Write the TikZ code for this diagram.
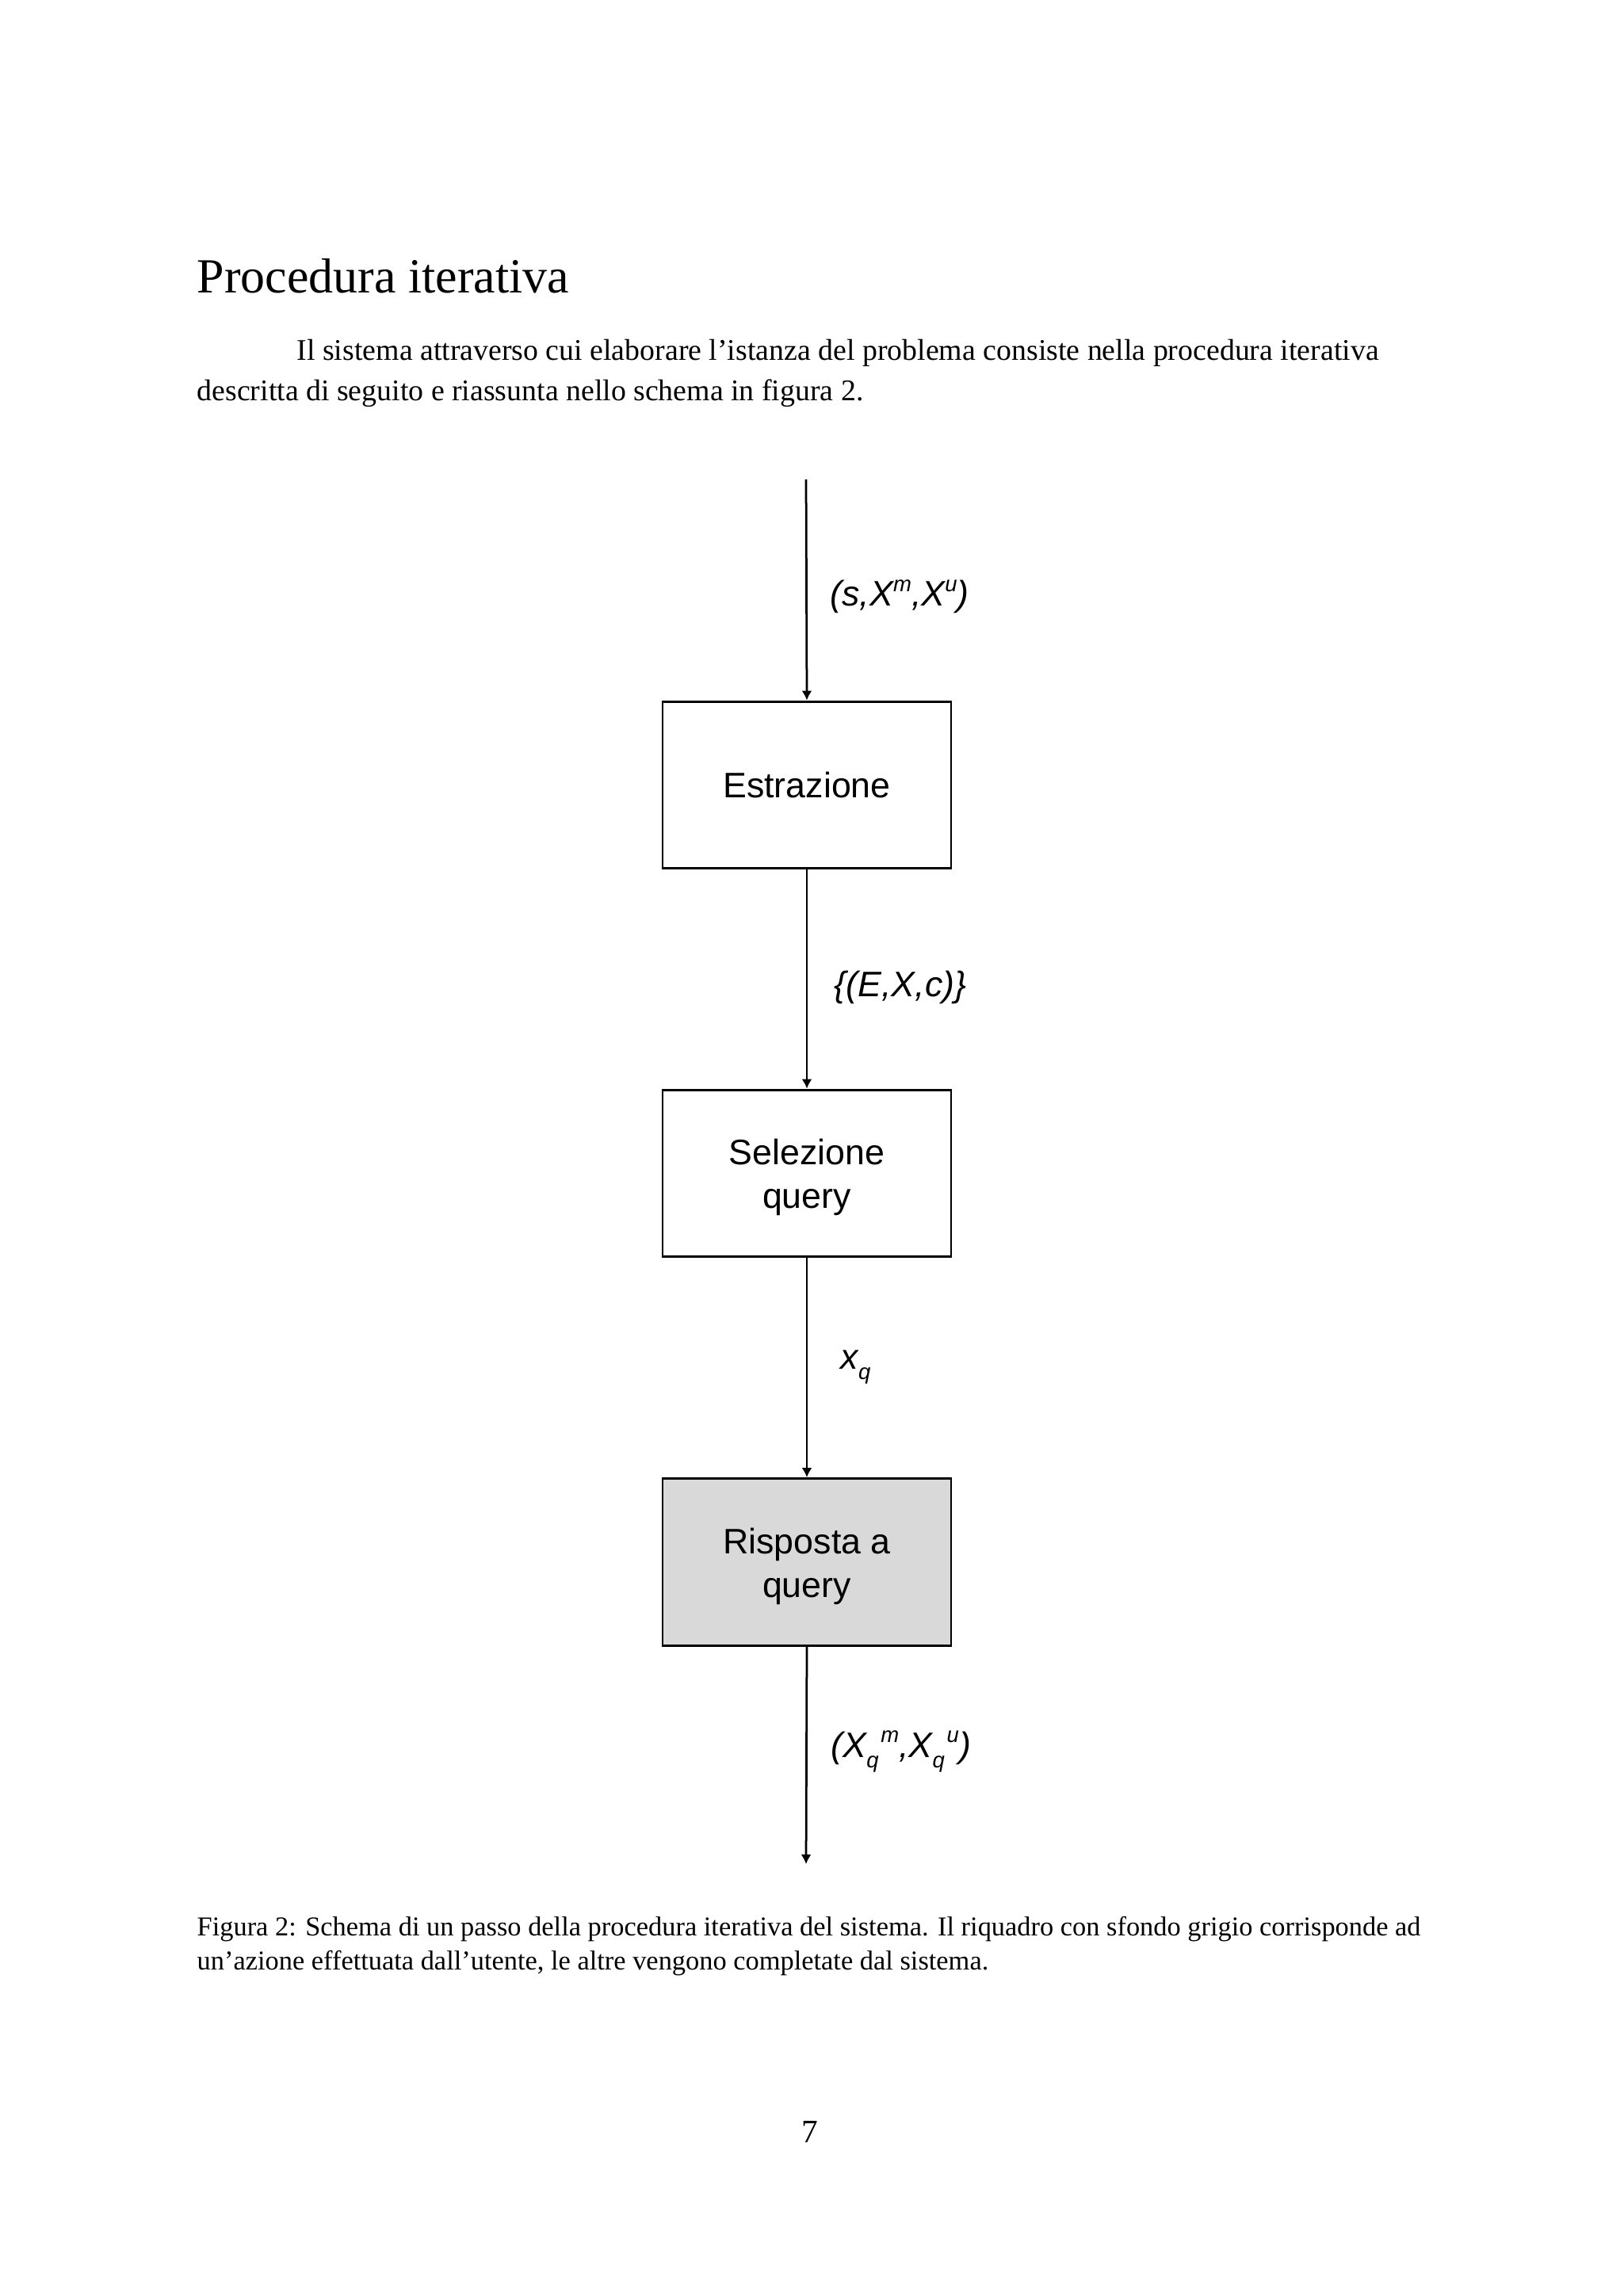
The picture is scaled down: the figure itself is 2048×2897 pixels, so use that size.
\documentclass[tikz,border=0pt]{standalone}
\usepackage{fontspec}
\setmainfont{Liberation Serif}
\newfontfamily\arialf{Liberation Sans}
\usetikzlibrary{arrows.meta}
\definecolor{boxgray}{RGB}{217,217,217}
\newcommand\supx[1]{\raisebox{5.5pt}{\fontsize{8}{8}\selectfont #1}}
\newcommand\subx[1]{\raisebox{-4pt}{\fontsize{8}{8}\selectfont #1}}
\newcommand\lowstrut{\rule{0pt}{12.5pt}}
\tikzset{
  pagetext/.style={anchor=base west,inner sep=0pt,font=\fontsize{11}{13}\selectfont},
  captext/.style={anchor=base west,inner sep=0pt,font=\fontsize{10}{12}\selectfont},
  stepbox/.style={draw=black,line width=0.85pt,minimum width=105.8pt,minimum height=61.3pt,
    inner sep=0pt,align=center,font=\arialf\fontsize{13}{16}\selectfont},
  flowlabel/.style={anchor=base west,inner sep=0pt,font=\arialf\itshape\fontsize{13}{15}\selectfont},
  flow/.style={line width=0.8pt,-{Latex[length=3.5pt,width=3.8pt]}}
}
\begin{document}
\begin{tikzpicture}[x=0.29068pt,y=-0.29068pt]
\fill[white] (0,0) rectangle (2048,2897);
\useasboundingbox (0,0) rectangle (2048,2897);
% heading and body text
\node[anchor=base west,inner sep=0pt,font=\fontsize{18}{21}\selectfont] (title) at (248,370) {Procedura iterativa};
\node[pagetext] (body1) at (374,455) {Il sistema attraverso cui elaborare l’istanza del problema consiste nella procedura iterativa};
\node[pagetext] (body2) at (248,506) {descritta di seguito e riassunta nello schema in figura 2.};
% diagram
\coordinate (top) at (1017,605);
\node[stepbox] (estr) at (1018,990.5) {Estrazione};
\node[stepbox] (sel) at (1018,1480.5) {\lowstrut Selezione\\query};
\node[stepbox,fill=boxgray] (risp) at (1018,1971) {\lowstrut Risposta a\\query};
\coordinate (bot) at (1017,2352);
\draw[flow] (top) -- (estr.north);
\draw[flow] (estr.south) -- (sel.north);
\draw[flow] (sel.south) -- (risp.north);
\draw[flow] (risp.south) -- (bot);
\node[flowlabel] (l1) at (1047,765) {(s,X\supx{m},X\supx{u})};
\node[flowlabel] (l2) at (1052,1257) {\{(E,X,c)\}};
\node[flowlabel] (l3) at (1060,1727) {x\subx{q}};
\node[flowlabel] (l4) at (1048,2217) {(X\subx{q}\kern0.8pt\supx{m},X\subx{q}\kern0.8pt\supx{u})};
% caption
\node[captext] (cap1) at (248,2442) {Figura 2: Schema di un passo della procedura iterativa del sistema. Il riquadro con sfondo grigio corrisponde ad};
\node[captext] (cap2) at (248,2485) {un’azione effettuata dall’utente, le altre vengono completate dal sistema.};
% page number
\node[anchor=base,inner sep=0pt,font=\fontsize{12}{14}\selectfont] (pnum) at (1022,2703) {7};
\end{tikzpicture}
\end{document}
